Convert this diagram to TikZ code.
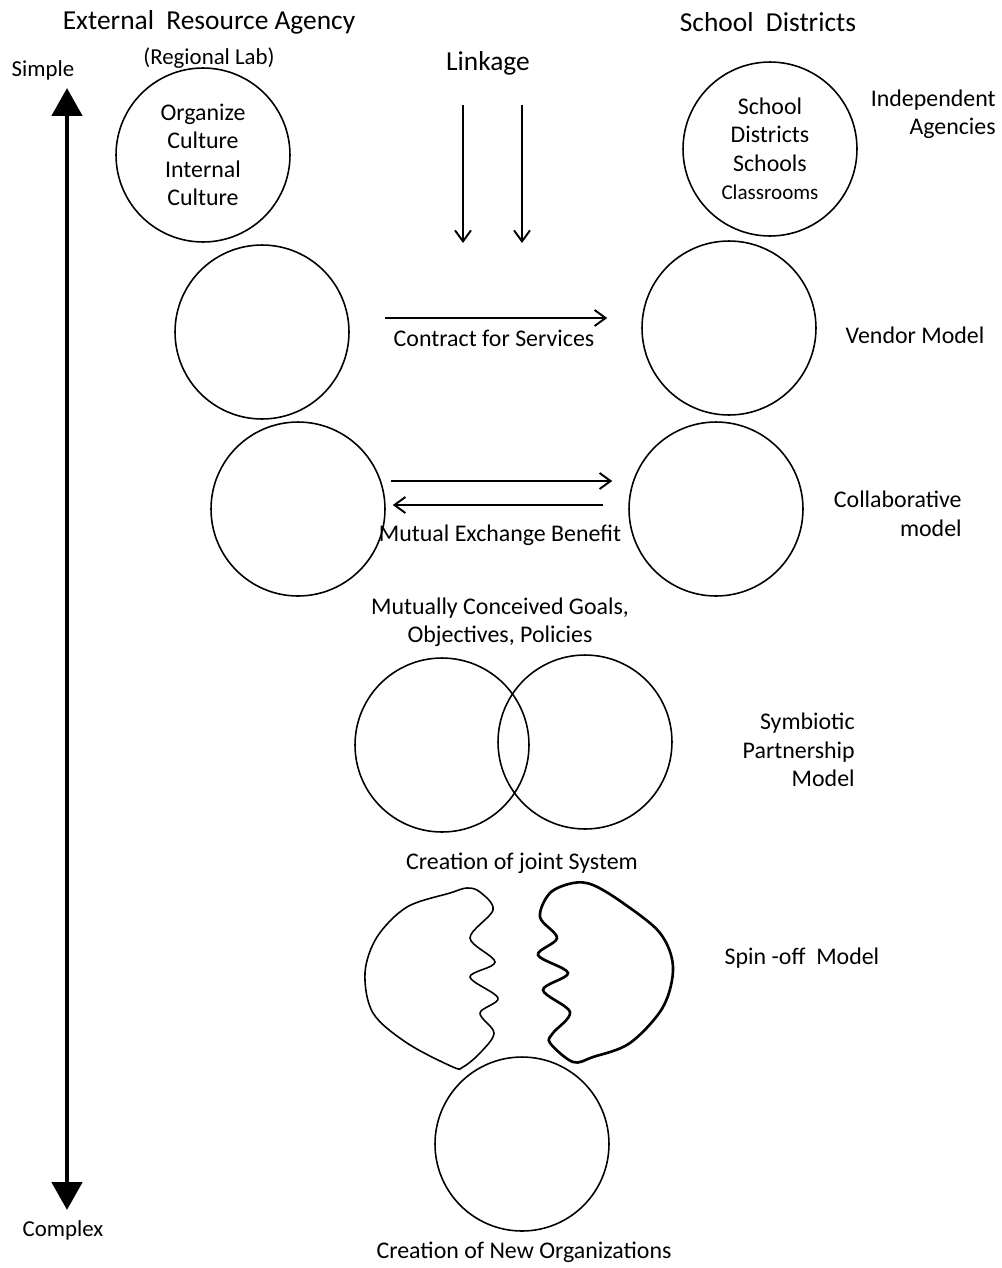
\documentclass[tikz,border=0pt]{standalone}
\usepackage{fontspec}
\setmainfont{Carlito}
\usetikzlibrary{positioning, arrows.meta}
\tikzset{x=0.02cm, y=-0.02cm, % one unit is one pixel of the sketch
every node/.style={ % Sets the text of every label
inner sep=0pt,
font=\fontsize{13.6}{16.2}\selectfont},
org/.style={ % Circles for the organisations
draw, circle, line width=0.9pt,
minimum size=3.48cm, align=center},
head/.style={font=\fontsize{15.6}{18}\selectfont},
small/.style={font=\fontsize{13}{15}\selectfont},
side/.style={align=right, anchor=east}, % labels of the models on the right
link/.style={ % thin arrows between the organisations
draw, line width=1.1pt,
-{Straight Barb[length=2.2mm,width=3.2mm]}},
scalearrow/.style={ % simple-complex axis
draw, line width=2.8pt,
{Triangle[width=6mm,length=5.6mm]}-{Triangle[width=6mm,length=5.6mm]}},
blob/.style={draw, line width=0.9pt}}

\begin{document}
\begin{tikzpicture}
    \useasboundingbox (0,0) rectangle (1001,1268);

    % headings
    \node[head] (era) at (209,22) {External\ \ Resource Agency};
    \node[small, below=0.26cm of era] (lab) {(Regional Lab)};
    \node[head] (sd) at (768,22) {School\ \ Districts};
    \node[head] (lnk) at (488,63) {Linkage};
    \node[small] (simple) at (43,70) {Simple};
    \node[small] (complex) at (63,1230) {Complex};

    % simple -> complex
    \coordinate (top) at (67,88);
    \coordinate (bot) at (67,1210);
    \draw[scalearrow] (top) -- (bot);

    % independent agencies
    \node[org] (eA) at (203,155) {Organize\\Culture\\Internal\\Culture};
    \node[org] (sA) at (770,149) {School\\Districts\\Schools\\{\fontsize{12}{13}\selectfont Classrooms}};
    \node[side] (indep) at (996,114) {Independent\\Agencies};
    \coordinate (lkA1) at (463,105);
    \coordinate (lkA2) at (463,243);
    \coordinate (lkB1) at (522,105);
    \coordinate (lkB2) at (522,243);
    \draw[link] (lkA1) -- (lkA2);
    \draw[link] (lkB1) -- (lkB2);

    % vendor model
    \node[org] (eB) at (262,332) {};
    \node[org] (sB) at (729,328) {};
    \draw[link, shorten <=0.7cm, shorten >=0.68cm] ([yshift=0.28cm]eB.east) -- ([yshift=0.28cm]eB.east -| sB.west);
    \node (contract) at (494,338) {Contract for Services};
    \node (vendor) at (915,335) {Vendor Model};

    % collaborative model
    \node[org] (eC) at (298,509) {};
    \node[org] (sC) at (716,509) {};
    \draw[link, shorten <=0.1cm, shorten >=0.32cm] ([yshift=0.56cm]eC.east) -- ([yshift=0.56cm]sC.west);
    \draw[link, shorten <=0.5cm, shorten >=0.14cm] ([yshift=0.08cm]sC.west) -- ([yshift=0.08cm]eC.east);
    \node (mutual) at (500,535) {Mutual Exchange Benefit};
    \node[side] (collab) at (962,514) {Collaborative\\model};

    % symbiotic partnership
    \node[align=center] (goals) at (500,622) {Mutually Conceived Goals,\\Objectives, Policies};
    \node[org] (eD) at (442,745) {};
    \node[org] (sD) at (585,742) {};
    \node[side] (symb) at (855,750) {Symbiotic\\Partnership\\Model};
    \node (joint) at (522,863) {Creation of joint System};

    % spin-off model
    \draw[blob] plot[smooth cycle, tension=0.55] coordinates {
        (467,888) (450,893) (407,907) (377,937) (365,973) (373,1013)
        (407,1043) (453,1067) (463,1067) (480,1053) (494,1033) (480,1013)
        (498,998) (470,977) (495,962) (470,938) (493,910) (480,892)};
    \draw[blob, line width=1.5pt] plot[smooth cycle, tension=0.55] coordinates {
        (573,883) (550,893) (540,917) (557,938) (538,955) (568,973)
        (543,990) (570,1012) (553,1033) (550,1043) (573,1062) (593,1057)
        (630,1043) (663,1007) (673,967) (660,933) (623,903) (593,885)};
    \node (spin) at (802,958) {Spin -off\ \ Model};
    \node[org] (new) at (522,1144) {};
    \node (neworg) at (524,1252) {Creation of New Organizations};

\end{tikzpicture}
\end{document}
